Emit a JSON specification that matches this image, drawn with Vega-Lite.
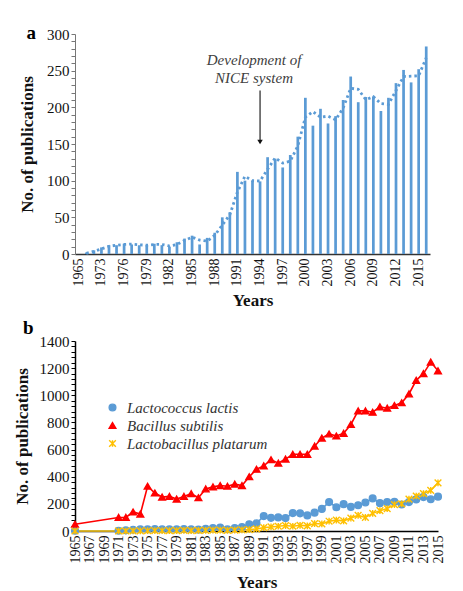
{
  "$schema": "https://vega.github.io/schema/vega-lite/v6.json",
  "background": "white",
  "padding": {"top": 24, "left": 13, "right": 8, "bottom": 2},
  "config": {
    "font": "Liberation Serif",
    "view": {"stroke": null},
    "axis": {"labelFont": "Liberation Serif", "titleFont": "Liberation Serif", "labelColor": "#111", "titleColor": "#111", "grid": false, "labelOverlap": false},
    "title": {"font": "Liberation Serif", "fontWeight": "bold", "fontSize": 19, "anchor": "start", "frame": "bounds", "color": "#000", "offset": 0}
  },
  "resolve": {"legend": {"color": "independent", "shape": "independent", "fill": "independent", "stroke": "independent"}},
  "datasets": {
    "top": [
      {"year": 1965, "n": 0},
      {"year": 1971, "n": 2},
      {"year": 1972, "n": 5},
      {"year": 1973, "n": 9},
      {"year": 1974, "n": 12},
      {"year": 1975, "n": 12},
      {"year": 1976, "n": 14},
      {"year": 1977, "n": 13},
      {"year": 1978, "n": 12},
      {"year": 1979, "n": 12},
      {"year": 1980, "n": 14},
      {"year": 1981, "n": 12},
      {"year": 1982, "n": 10},
      {"year": 1983, "n": 16},
      {"year": 1984, "n": 21},
      {"year": 1985, "n": 25},
      {"year": 1986, "n": 13},
      {"year": 1987, "n": 22},
      {"year": 1988, "n": 29},
      {"year": 1989, "n": 50},
      {"year": 1990, "n": 57},
      {"year": 1991, "n": 112},
      {"year": 1992, "n": 100},
      {"year": 1993, "n": 100},
      {"year": 1994, "n": 99},
      {"year": 1995, "n": 132},
      {"year": 1996, "n": 130},
      {"year": 1997, "n": 118},
      {"year": 1998, "n": 135},
      {"year": 1999, "n": 160},
      {"year": 2000, "n": 213},
      {"year": 2001, "n": 175},
      {"year": 2002, "n": 198},
      {"year": 2003, "n": 178},
      {"year": 2004, "n": 188},
      {"year": 2005, "n": 210},
      {"year": 2006, "n": 242},
      {"year": 2007, "n": 207},
      {"year": 2008, "n": 214},
      {"year": 2009, "n": 215},
      {"year": 2010, "n": 195},
      {"year": 2011, "n": 213},
      {"year": 2012, "n": 233},
      {"year": 2013, "n": 251},
      {"year": 2014, "n": 234},
      {"year": 2015, "n": 252},
      {"year": 2016, "n": 283}
    ],
    "trend": [
      {"year": 1971, "n": 1},
      {"year": 1972, "n": 3.5},
      {"year": 1973, "n": 7},
      {"year": 1974, "n": 10.5},
      {"year": 1975, "n": 12},
      {"year": 1976, "n": 13},
      {"year": 1977, "n": 13.5},
      {"year": 1978, "n": 12.5},
      {"year": 1979, "n": 12},
      {"year": 1980, "n": 13},
      {"year": 1981, "n": 13},
      {"year": 1982, "n": 11},
      {"year": 1983, "n": 13},
      {"year": 1984, "n": 18.5},
      {"year": 1985, "n": 23},
      {"year": 1986, "n": 19},
      {"year": 1987, "n": 17.5},
      {"year": 1988, "n": 25.5},
      {"year": 1989, "n": 39.5},
      {"year": 1990, "n": 53.5},
      {"year": 1991, "n": 84.5},
      {"year": 1992, "n": 106},
      {"year": 1993, "n": 100},
      {"year": 1994, "n": 99.5},
      {"year": 1995, "n": 115.5},
      {"year": 1996, "n": 131},
      {"year": 1997, "n": 124},
      {"year": 1998, "n": 126.5},
      {"year": 1999, "n": 147.5},
      {"year": 2000, "n": 186.5},
      {"year": 2001, "n": 194},
      {"year": 2002, "n": 186.5},
      {"year": 2003, "n": 188},
      {"year": 2004, "n": 183},
      {"year": 2005, "n": 199},
      {"year": 2006, "n": 226},
      {"year": 2007, "n": 224.5},
      {"year": 2008, "n": 210.5},
      {"year": 2009, "n": 214.5},
      {"year": 2010, "n": 205},
      {"year": 2011, "n": 204},
      {"year": 2012, "n": 223},
      {"year": 2013, "n": 242},
      {"year": 2014, "n": 242.5},
      {"year": 2015, "n": 243},
      {"year": 2016, "n": 267.5}
    ],
    "arrow": [{"year": 1994, "n": 223, "n2": 152}],
    "arrowTip": [{"year": 1994, "n": 150}],
    "annotText": [
      {"year": 1994, "n": 264, "label": "Development of"},
      {"year": 1994, "n": 240, "label": "NICE system"}
    ],
    "bottom": [
      {"year": 1965, "species": "Lactococcus lactis", "n": 2},
      {"year": 1971, "species": "Lactococcus lactis", "n": 2},
      {"year": 1972, "species": "Lactococcus lactis", "n": 5},
      {"year": 1973, "species": "Lactococcus lactis", "n": 9},
      {"year": 1974, "species": "Lactococcus lactis", "n": 12},
      {"year": 1975, "species": "Lactococcus lactis", "n": 12},
      {"year": 1976, "species": "Lactococcus lactis", "n": 14},
      {"year": 1977, "species": "Lactococcus lactis", "n": 13},
      {"year": 1978, "species": "Lactococcus lactis", "n": 12},
      {"year": 1979, "species": "Lactococcus lactis", "n": 12},
      {"year": 1980, "species": "Lactococcus lactis", "n": 14},
      {"year": 1981, "species": "Lactococcus lactis", "n": 12},
      {"year": 1982, "species": "Lactococcus lactis", "n": 10},
      {"year": 1983, "species": "Lactococcus lactis", "n": 16},
      {"year": 1984, "species": "Lactococcus lactis", "n": 21},
      {"year": 1985, "species": "Lactococcus lactis", "n": 25},
      {"year": 1986, "species": "Lactococcus lactis", "n": 13},
      {"year": 1987, "species": "Lactococcus lactis", "n": 22},
      {"year": 1988, "species": "Lactococcus lactis", "n": 29},
      {"year": 1989, "species": "Lactococcus lactis", "n": 50},
      {"year": 1990, "species": "Lactococcus lactis", "n": 57},
      {"year": 1991, "species": "Lactococcus lactis", "n": 110},
      {"year": 1992, "species": "Lactococcus lactis", "n": 97},
      {"year": 1993, "species": "Lactococcus lactis", "n": 100},
      {"year": 1994, "species": "Lactococcus lactis", "n": 95},
      {"year": 1995, "species": "Lactococcus lactis", "n": 132},
      {"year": 1996, "species": "Lactococcus lactis", "n": 130},
      {"year": 1997, "species": "Lactococcus lactis", "n": 115},
      {"year": 1998, "species": "Lactococcus lactis", "n": 135},
      {"year": 1999, "species": "Lactococcus lactis", "n": 163},
      {"year": 2000, "species": "Lactococcus lactis", "n": 213},
      {"year": 2001, "species": "Lactococcus lactis", "n": 175},
      {"year": 2002, "species": "Lactococcus lactis", "n": 198},
      {"year": 2003, "species": "Lactococcus lactis", "n": 178},
      {"year": 2004, "species": "Lactococcus lactis", "n": 190},
      {"year": 2005, "species": "Lactococcus lactis", "n": 210},
      {"year": 2006, "species": "Lactococcus lactis", "n": 240},
      {"year": 2007, "species": "Lactococcus lactis", "n": 205},
      {"year": 2008, "species": "Lactococcus lactis", "n": 213},
      {"year": 2009, "species": "Lactococcus lactis", "n": 215},
      {"year": 2010, "species": "Lactococcus lactis", "n": 195},
      {"year": 2011, "species": "Lactococcus lactis", "n": 213},
      {"year": 2012, "species": "Lactococcus lactis", "n": 233},
      {"year": 2013, "species": "Lactococcus lactis", "n": 250},
      {"year": 2014, "species": "Lactococcus lactis", "n": 234},
      {"year": 2015, "species": "Lactococcus lactis", "n": 253},
      {"year": 1965, "species": "Bacillus subtilis", "n": 50},
      {"year": 1971, "species": "Bacillus subtilis", "n": 100},
      {"year": 1972, "species": "Bacillus subtilis", "n": 100},
      {"year": 1973, "species": "Bacillus subtilis", "n": 140},
      {"year": 1974, "species": "Bacillus subtilis", "n": 125},
      {"year": 1975, "species": "Bacillus subtilis", "n": 330},
      {"year": 1976, "species": "Bacillus subtilis", "n": 280},
      {"year": 1977, "species": "Bacillus subtilis", "n": 250},
      {"year": 1978, "species": "Bacillus subtilis", "n": 255},
      {"year": 1979, "species": "Bacillus subtilis", "n": 235},
      {"year": 1980, "species": "Bacillus subtilis", "n": 255},
      {"year": 1981, "species": "Bacillus subtilis", "n": 275},
      {"year": 1982, "species": "Bacillus subtilis", "n": 245},
      {"year": 1983, "species": "Bacillus subtilis", "n": 310},
      {"year": 1984, "species": "Bacillus subtilis", "n": 325},
      {"year": 1985, "species": "Bacillus subtilis", "n": 335},
      {"year": 1986, "species": "Bacillus subtilis", "n": 330},
      {"year": 1987, "species": "Bacillus subtilis", "n": 345},
      {"year": 1988, "species": "Bacillus subtilis", "n": 335},
      {"year": 1989, "species": "Bacillus subtilis", "n": 400},
      {"year": 1990, "species": "Bacillus subtilis", "n": 455},
      {"year": 1991, "species": "Bacillus subtilis", "n": 480},
      {"year": 1992, "species": "Bacillus subtilis", "n": 525},
      {"year": 1993, "species": "Bacillus subtilis", "n": 500},
      {"year": 1994, "species": "Bacillus subtilis", "n": 530},
      {"year": 1995, "species": "Bacillus subtilis", "n": 565},
      {"year": 1996, "species": "Bacillus subtilis", "n": 565},
      {"year": 1997, "species": "Bacillus subtilis", "n": 565},
      {"year": 1998, "species": "Bacillus subtilis", "n": 625},
      {"year": 1999, "species": "Bacillus subtilis", "n": 685},
      {"year": 2000, "species": "Bacillus subtilis", "n": 715},
      {"year": 2001, "species": "Bacillus subtilis", "n": 700},
      {"year": 2002, "species": "Bacillus subtilis", "n": 720},
      {"year": 2003, "species": "Bacillus subtilis", "n": 785},
      {"year": 2004, "species": "Bacillus subtilis", "n": 885},
      {"year": 2005, "species": "Bacillus subtilis", "n": 885},
      {"year": 2006, "species": "Bacillus subtilis", "n": 875},
      {"year": 2007, "species": "Bacillus subtilis", "n": 915},
      {"year": 2008, "species": "Bacillus subtilis", "n": 905},
      {"year": 2009, "species": "Bacillus subtilis", "n": 925},
      {"year": 2010, "species": "Bacillus subtilis", "n": 945},
      {"year": 2011, "species": "Bacillus subtilis", "n": 1010},
      {"year": 2012, "species": "Bacillus subtilis", "n": 1110},
      {"year": 2013, "species": "Bacillus subtilis", "n": 1160},
      {"year": 2014, "species": "Bacillus subtilis", "n": 1245},
      {"year": 2015, "species": "Bacillus subtilis", "n": 1180},
      {"year": 1965, "species": "Lactobacillus platarum", "n": 0},
      {"year": 1971, "species": "Lactobacillus platarum", "n": 0},
      {"year": 1972, "species": "Lactobacillus platarum", "n": 0},
      {"year": 1973, "species": "Lactobacillus platarum", "n": 1},
      {"year": 1974, "species": "Lactobacillus platarum", "n": 1},
      {"year": 1975, "species": "Lactobacillus platarum", "n": 2},
      {"year": 1976, "species": "Lactobacillus platarum", "n": 3},
      {"year": 1977, "species": "Lactobacillus platarum", "n": 2},
      {"year": 1978, "species": "Lactobacillus platarum", "n": 3},
      {"year": 1979, "species": "Lactobacillus platarum", "n": 3},
      {"year": 1980, "species": "Lactobacillus platarum", "n": 4},
      {"year": 1981, "species": "Lactobacillus platarum", "n": 3},
      {"year": 1982, "species": "Lactobacillus platarum", "n": 4},
      {"year": 1983, "species": "Lactobacillus platarum", "n": 5},
      {"year": 1984, "species": "Lactobacillus platarum", "n": 6},
      {"year": 1985, "species": "Lactobacillus platarum", "n": 6},
      {"year": 1986, "species": "Lactobacillus platarum", "n": 5},
      {"year": 1987, "species": "Lactobacillus platarum", "n": 7},
      {"year": 1988, "species": "Lactobacillus platarum", "n": 8},
      {"year": 1989, "species": "Lactobacillus platarum", "n": 10},
      {"year": 1990, "species": "Lactobacillus platarum", "n": 15},
      {"year": 1991, "species": "Lactobacillus platarum", "n": 25},
      {"year": 1992, "species": "Lactobacillus platarum", "n": 30},
      {"year": 1993, "species": "Lactobacillus platarum", "n": 35},
      {"year": 1994, "species": "Lactobacillus platarum", "n": 40},
      {"year": 1995, "species": "Lactobacillus platarum", "n": 35},
      {"year": 1996, "species": "Lactobacillus platarum", "n": 42},
      {"year": 1997, "species": "Lactobacillus platarum", "n": 38},
      {"year": 1998, "species": "Lactobacillus platarum", "n": 55},
      {"year": 1999, "species": "Lactobacillus platarum", "n": 52},
      {"year": 2000, "species": "Lactobacillus platarum", "n": 72},
      {"year": 2001, "species": "Lactobacillus platarum", "n": 80},
      {"year": 2002, "species": "Lactobacillus platarum", "n": 75},
      {"year": 2003, "species": "Lactobacillus platarum", "n": 95},
      {"year": 2004, "species": "Lactobacillus platarum", "n": 115},
      {"year": 2005, "species": "Lactobacillus platarum", "n": 100},
      {"year": 2006, "species": "Lactobacillus platarum", "n": 130},
      {"year": 2007, "species": "Lactobacillus platarum", "n": 150},
      {"year": 2008, "species": "Lactobacillus platarum", "n": 165},
      {"year": 2009, "species": "Lactobacillus platarum", "n": 195},
      {"year": 2010, "species": "Lactobacillus platarum", "n": 200},
      {"year": 2011, "species": "Lactobacillus platarum", "n": 235},
      {"year": 2012, "species": "Lactobacillus platarum", "n": 258},
      {"year": 2013, "species": "Lactobacillus platarum", "n": 275},
      {"year": 2014, "species": "Lactobacillus platarum", "n": 300},
      {"year": 2015, "species": "Lactobacillus platarum", "n": 355}
    ]
  },
  "vconcat": [
    {
      "title": {"text": "a", "dy": 20, "dx": 8},
      "width": 355,
      "height": 220,
      "encoding": {
        "x": {
          "field": "year", "type": "ordinal", "title": "Years",
          "scale": {"paddingInner": 0, "paddingOuter": 0, "domain": [1965, 1971, 1972, 1973, 1974, 1975, 1976, 1977, 1978, 1979, 1980, 1981, 1982, 1983, 1984, 1985, 1986, 1987, 1988, 1989, 1990, 1991, 1992, 1993, 1994, 1995, 1996, 1997, 1998, 1999, 2000, 2001, 2002, 2003, 2004, 2005, 2006, 2007, 2008, 2009, 2010, 2011, 2012, 2013, 2014, 2015, 2016]},
          "axis": {
            "values": [1965, 1973, 1976, 1979, 1982, 1985, 1988, 1991, 1994, 1997, 2000, 2003, 2006, 2009, 2012, 2015],
            "labelAngle": -90, "labelFontSize": 14, "labelPadding": 4, "ticks": false,
            "domainColor": "#333", "domainWidth": 1.5,
            "titleFontSize": 17, "titleFontWeight": "bold", "titlePadding": 6
          }
        },
        "y": {
          "field": "n", "type": "quantitative", "title": "No. of publications",
          "scale": {"domain": [0, 300], "nice": false},
          "axis": {
            "values": [0, 10, 20, 30, 40, 50, 60, 70, 80, 90, 100, 110, 120, 130, 140, 150, 160, 170, 180, 190, 200, 210, 220, 230, 240, 250, 260, 270, 280, 290, 300],
            "labelExpr": "datum.value % 50 === 0 ? datum.label : ''",
            "labelFontSize": 15, "tickSize": 4, "tickColor": "#777", "domainColor": "#777",
            "titleFontSize": 17, "titleFontWeight": "bold", "titlePadding": 10
          }
        }
      },
      "layer": [
        {
          "data": {"name": "top"},
          "mark": {"type": "bar", "color": "#5B9BD5", "width": {"band": 0.36}}
        },
        {
          "data": {"name": "trend"},
          "mark": {"type": "line", "color": "#5B9BD5", "strokeWidth": 2.8, "strokeDash": [2.5, 3]},
          "encoding": {}
        },
        {
          "data": {"name": "arrow"},
          "mark": {"type": "rule", "color": "#222", "strokeWidth": 1.2},
          "encoding": {"y2": {"field": "n2"}}
        },
        {
          "data": {"name": "arrowTip"},
          "mark": {"type": "point", "shape": "triangle-down", "filled": true, "color": "#111", "size": 30, "opacity": 1, "yOffset": -2}
        },
        {
          "data": {"name": "annotText"},
          "mark": {"type": "text", "fontStyle": "italic", "fontSize": 15, "color": "#404040", "dx": -6},
          "encoding": {"text": {"field": "label"}}
        }
      ]
    },
    {
      "title": {"text": "b", "dy": 8, "dx": 10},
      "width": 363,
      "height": 190,
      "data": {"name": "bottom"},
      "encoding": {
        "x": {
          "field": "year", "type": "quantitative", "title": "Years",
          "scale": {"domain": [1965, 2015], "nice": false, "zero": false},
          "axis": {
            "values": [1965, 1967, 1969, 1971, 1973, 1975, 1977, 1979, 1981, 1983, 1985, 1987, 1989, 1991, 1993, 1995, 1997, 1999, 2001, 2003, 2005, 2007, 2009, 2011, 2013, 2015],
            "format": "d", "labelAngle": -90, "labelFontSize": 14, "labelPadding": 4, "ticks": false,
            "domainColor": "#000", "domainWidth": 1.5,
            "titleFontSize": 17, "titleFontWeight": "bold", "titlePadding": 11
          }
        },
        "y": {
          "field": "n", "type": "quantitative", "title": "No. of publications",
          "scale": {"domain": [0, 1400], "nice": false},
          "axis": {
            "values": [0, 40, 80, 120, 160, 200, 240, 280, 320, 360, 400, 440, 480, 520, 560, 600, 640, 680, 720, 760, 800, 840, 880, 920, 960, 1000, 1040, 1080, 1120, 1160, 1200, 1240, 1280, 1320, 1360, 1400],
            "labelExpr": "datum.value % 200 === 0 ? datum.label : ''",
            "format": "d", "labelFontSize": 15, "tickSize": 4, "tickColor": "#000", "domainColor": "#000", "domainWidth": 1.5,
            "titleFontSize": 17, "titleFontWeight": "bold", "titlePadding": 8
          }
        },
        "color": {
          "field": "species", "type": "nominal", "title": null,
          "scale": {"domain": ["Lactococcus lactis", "Bacillus subtilis", "Lactobacillus platarum"], "range": ["#5B9BD5", "#FF0000", "#FFC000"]},
          "legend": {
            "orient": "none", "legendX": 30, "legendY": 59, "title": null,
            "labelFont": "Liberation Serif", "labelFontStyle": "italic", "labelFontSize": 15, "labelColor": "#333", "labelOffset": 7,
            "rowPadding": 2, "symbolSize": 45, "symbolStrokeWidth": 1.4
          }
        }
      },
      "layer": [
        {
          "mark": {"type": "line", "strokeWidth": 1.6},
          "encoding": {"order": {"field": "year", "type": "quantitative"}}
        },
        {
          "mark": {"type": "point", "filled": false, "opacity": 1, "size": 45, "strokeWidth": 1.4},
          "encoding": {
            "fill": {"field": "species", "type": "nominal", "scale": {"domain": ["Lactococcus lactis", "Bacillus subtilis", "Lactobacillus platarum"], "range": ["#5B9BD5", "#FF0000", "#FFC000"]}},
            "stroke": {"field": "species", "type": "nominal", "scale": {"domain": ["Lactococcus lactis", "Bacillus subtilis", "Lactobacillus platarum"], "range": ["#5B9BD5", "#FF0000", "#FFC000"]}},
            "shape": {
              "field": "species", "type": "nominal",
              "scale": {"domain": ["Lactococcus lactis", "Bacillus subtilis", "Lactobacillus platarum"], "range": ["circle", "triangle-up", "M-1,-1L1,1M-1,1L1,-1M0,-1L0,1"]}
            }
          }
        }
      ]
    }
  ],
  "spacing": 11
}
